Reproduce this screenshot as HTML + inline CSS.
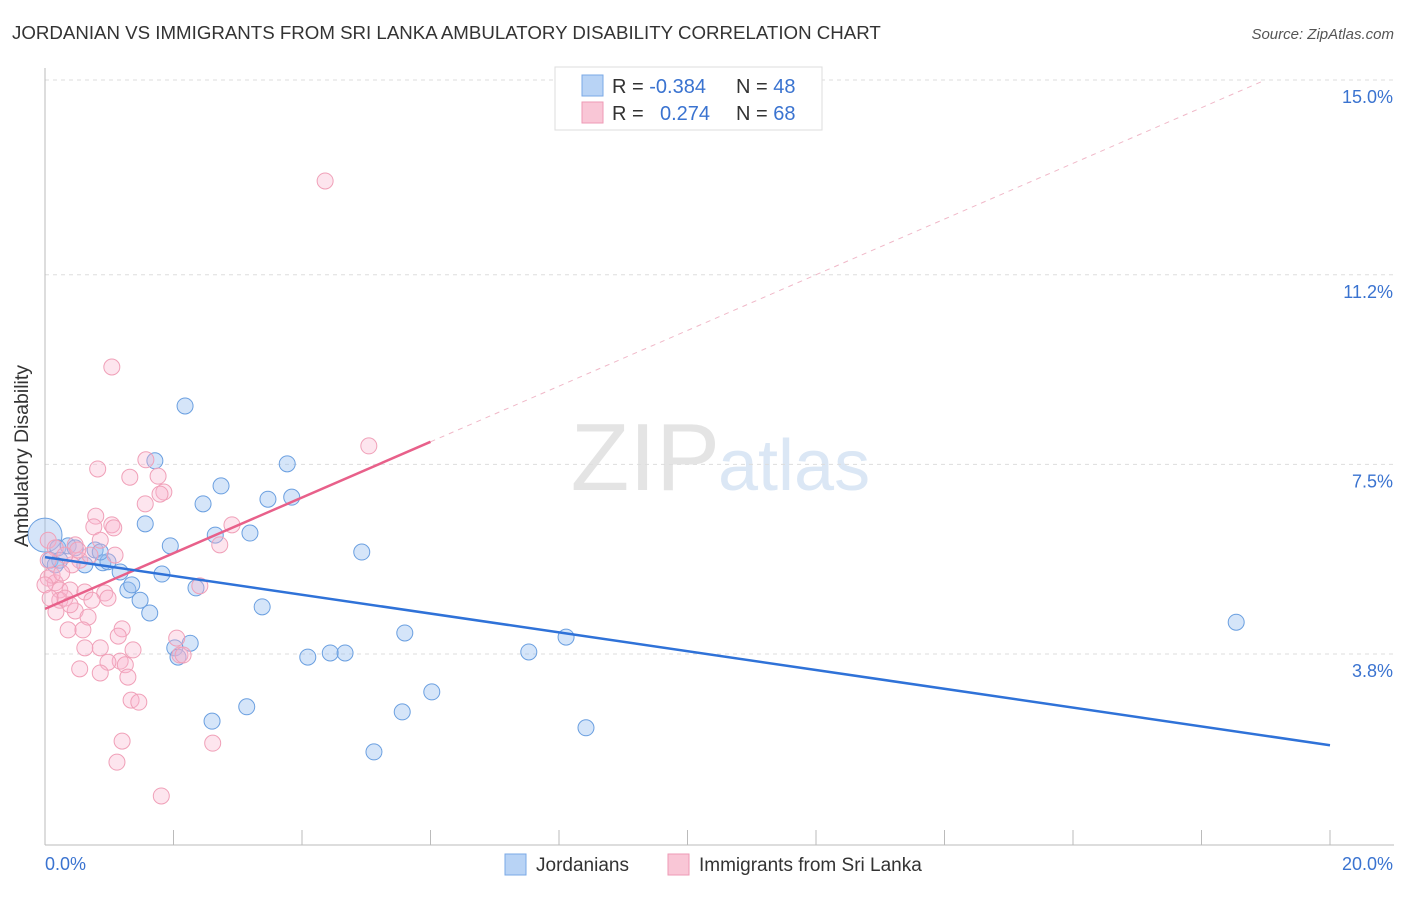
<!DOCTYPE html>
<html><head><meta charset="utf-8"><style>
body{margin:0;background:#fff;font-family:"Liberation Sans",sans-serif}
svg text{font-family:"Liberation Sans",sans-serif}
</style></head><body>
<svg width="1406" height="892" xmlns="http://www.w3.org/2000/svg">
<text x="12" y="39" font-size="18.7" fill="#333">JORDANIAN VS IMMIGRANTS FROM SRI LANKA AMBULATORY DISABILITY CORRELATION CHART</text>
<text x="1394" y="39" font-size="15" fill="#555" text-anchor="end" font-style="italic">Source: ZipAtlas.com</text>
<text x="720" y="490" font-size="96" fill="#e4e4e4" text-anchor="end" font-family="Liberation Serif">ZIP</text>
<text x="718" y="490" font-size="72" fill="#dbe7f5">atlas</text>
<g id="grid"></g>
<g id="axes"></g>
<g id="marks"></g>
<text x="28" y="456" font-size="19.5" fill="#333" text-anchor="middle" transform="rotate(-90 28 456)">Ambulatory Disability</text>
<g>
<rect x="555" y="67" width="267" height="63" fill="#fff" stroke="#ddd"/>
<rect x="582" y="75" width="21" height="21" fill="#b8d3f5" stroke="#7aa8e6"/>
<rect x="582" y="102" width="21" height="21" fill="#f9c6d6" stroke="#ee9ab5"/>
<text x="612" y="93" font-size="20" fill="#333">R = <tspan fill="#3a73d0">-0.384</tspan><tspan x="736">N = </tspan><tspan fill="#3a73d0">48</tspan></text>
<text x="612" y="120" font-size="20" fill="#333">R = <tspan x="660" fill="#3a73d0">0.274</tspan><tspan x="736">N = </tspan><tspan fill="#3a73d0">68</tspan></text>
</g>
<g>
<rect x="505" y="854" width="21" height="21" fill="#b8d3f5" stroke="#7aa8e6"/>
<text x="536" y="871" font-size="19" fill="#333">Jordanians</text>
<rect x="668" y="854" width="21" height="21" fill="#f9c6d6" stroke="#ee9ab5"/>
<text x="699" y="871" font-size="19" fill="#333">Immigrants from Sri Lanka</text>
</g>
</svg>
<script>
const yTicks=[15.0,11.2,7.5,3.8];
const yTickLabels=["15.0%","11.2%","7.5%","3.8%"];
const xTickVals=[0,2,4,6,8,10,12,14,16,18,20];
const blueX=[0,0.08,0.2,0.36,0.62,0.78,0.9,0.98,1.17,1.29,1.35,1.48,1.56,1.63,1.71,1.82,1.95,2.02,2.07,2.18,2.26,2.35,2.46,2.6,2.65,2.74,3.14,3.19,3.38,3.47,3.77,3.84,4.09,4.44,4.67,4.93,5.12,5.56,5.6,6.02,7.53,8.11,8.42,18.54,0.86,0.47,0.23,0.16];
const blueY=[6.12,5.63,5.87,5.91,5.54,5.83,5.58,5.6,5.4,5.05,5.15,4.85,6.34,4.6,7.57,5.36,5.91,3.92,3.74,8.64,4.01,5.09,6.73,2.49,6.12,7.08,2.77,6.16,4.72,6.82,7.51,6.86,3.74,3.82,3.82,5.79,1.89,2.67,4.21,3.06,3.84,4.13,2.36,4.42,5.79,5.87,5.63,5.54];
const pinkX=[4.36,1.04,5.04,1.57,0.82,1.76,1.32,1.85,1.56,1.79,0.79,0.76,1.04,1.07,2.91,2.72,0.05,0.16,0.47,0.54,0.42,0.05,0.16,0.23,0.39,0.62,0.23,0.31,0.93,0.98,2.41,0.47,0.67,0.36,0.59,1.2,1.14,2.05,2.1,2.15,0.86,1.37,0.62,1.17,1.25,0.98,0.54,0.86,1.29,1.34,1.46,1.2,2.61,1.12,1.81,0.05,0.11,0.26,0.7,0,0.31,0.51,0.86,1.09,0.73,0.39,0.17,0.08];
const pinkY=[13.03,9.4,7.86,7.59,7.41,7.27,7.25,6.96,6.73,6.92,6.49,6.28,6.32,6.26,6.32,5.93,6.02,5.87,5.93,5.63,5.54,5.28,5.19,5.05,5.05,5.01,4.85,4.89,4.99,4.89,5.13,4.64,4.52,4.27,4.27,4.29,4.15,4.11,3.78,3.78,3.92,3.88,3.92,3.66,3.59,3.64,3.51,3.43,3.35,2.9,2.86,2.1,2.06,1.69,1.03,5.63,5.34,5.38,5.73,5.15,5.73,5.83,6.02,5.73,4.85,4.76,4.62,4.89];
const blueLine=[[0,5.69],[20,2.02]];
const pinkLine=[[0,4.68],[6,7.94]];
const NS="http://www.w3.org/2000/svg";
function sx(v){return 45+v*64.25;}
function sy(v){return 80+(15-v)*51.25;}
function mk(t,a,p){const e=document.createElementNS(NS,t);for(const k in a)e.setAttribute(k,a[k]);p.appendChild(e);return e;}
const grid=document.getElementById('grid'),axes=document.getElementById('axes'),marks=document.getElementById('marks');
yTicks.forEach((v,i)=>{
 const l=mk('line',{x1:45,x2:1394,y1:sy(v),y2:sy(v),stroke:'#ddd','stroke-dasharray':'4,4'},grid);
 
 
 const t=mk('text',{x:1393,y:sy(v)+23,'font-size':18,fill:'#3a73d0','text-anchor':'end'},axes);
 t.textContent=yTickLabels[i];
 
 
});
const ya=mk('line',{x1:45,x2:45,y1:68,y2:845,stroke:'#bbb'},axes);


const xa=mk('line',{x1:45,x2:1394,y1:845,y2:845,stroke:'#bbb'},axes);


xTickVals.forEach(v=>{
 const t=mk('line',{x1:sx(v),x2:sx(v),y1:830,y2:845,stroke:'#bbb'},axes);
 
 
});
const xl0=mk('text',{x:45,y:870,'font-size':18,fill:'#3a73d0'},axes);xl0.textContent='0.0%';


const xl1=mk('text',{x:1393,y:870,'font-size':18,fill:'#3a73d0','text-anchor':'end'},axes);xl1.textContent='20.0%';


blueX.forEach((x,i)=>{
 const c=mk('circle',{cx:sx(x),cy:sy(blueY[i]),r:i===0?17:8,fill:'rgba(150,190,240,0.4)',stroke:'#6a9fe0','stroke-width':1},marks);
 
 
});
pinkX.forEach((x,i)=>{
 const c=mk('circle',{cx:sx(x),cy:sy(pinkY[i]),r:8,fill:'rgba(248,180,205,0.35)',stroke:'#f0a0b8','stroke-width':1},marks);
 
 
});
const slope=(pinkLine[1][1]-pinkLine[0][1])/(pinkLine[1][0]-pinkLine[0][0]);
const xEnd=(15-pinkLine[0][1])/slope;
const pd=mk('line',{x1:sx(pinkLine[1][0]),y1:sy(pinkLine[1][1]),x2:sx(xEnd),y2:sy(15),stroke:'#f0b8c8','stroke-dasharray':'5,5'},marks);


const pl=mk('line',{x1:sx(pinkLine[0][0]),y1:sy(pinkLine[0][1]),x2:sx(pinkLine[1][0]),y2:sy(pinkLine[1][1]),stroke:'#e8608a','stroke-width':2.5},marks);


const bl=mk('line',{x1:sx(blueLine[0][0]),y1:sy(blueLine[0][1]),x2:sx(blueLine[1][0]),y2:sy(blueLine[1][1]),stroke:'#2f72d8','stroke-width':2.5},marks);


</script>
</body></html>
